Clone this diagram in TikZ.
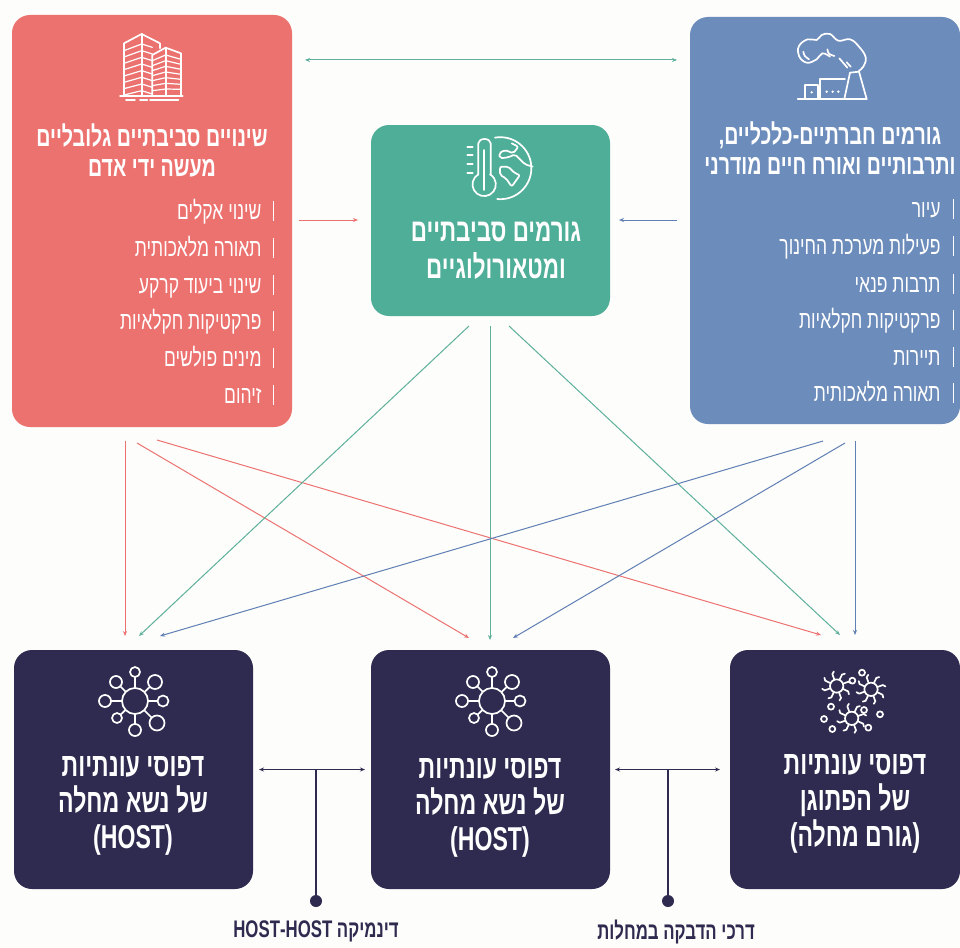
\documentclass[tikz,border=0pt]{standalone}
\usepackage{fontspec}
\usepackage{xcolor}
\usetikzlibrary{positioning}
\usetikzlibrary{arrows.meta}
\usetikzlibrary{calc}
\TeXXeTstate=1
\newfontfamily\hebfont[Script=Hebrew,FakeStretch=0.7]{Liberation Sans}
\newcommand{\heb}[1]{{\hebfont\beginR #1\endR}}
\definecolor{pagebg}{HTML}{FDFDFB}
\definecolor{redfill}{HTML}{EC7270}
\definecolor{bluefill}{HTML}{6C8CBB}
\definecolor{greenfill}{HTML}{4FAE98}
\definecolor{darkfill}{HTML}{2F2A4F}
\definecolor{tealline}{HTML}{5DB09A}
\definecolor{blueline}{HTML}{5F7FB5}
\tikzset{
  box/.style={rectangle,rounded corners=18pt,inner sep=0pt,outer sep=0pt,minimum width=239pt,minimum height=239pt},
  redline/.style={draw=redfill},
  tealarrow/.style={draw=tealline},
  bluearrow/.style={draw=blueline},
  darkarrow/.style={draw=darkfill},
  title/.style={text=white,align=center,font=\hebfont\bfseries\fontsize{28}{30}\selectfont},
  bigtitle/.style={text=white,align=center,font=\hebfont\bfseries\fontsize{32}{37}\selectfont},
  hosttitle/.style={text=white,align=center,font=\hebfont\bfseries\fontsize{33}{36}\selectfont},
  item/.style={text=white,anchor=base east,inner sep=0pt,font=\hebfont\fontsize{25}{27}\selectfont},
  itembar/.style={-,draw=white,line width=0.8pt},
  caption/.style={text=darkfill,font=\hebfont\bfseries\fontsize{24}{26}\selectfont},
  dotnode/.style={circle,fill=darkfill,inner sep=0pt,minimum size=12pt},
  iconline/.style={-,color=white,line width=1.7pt,line cap=round,line join=round},
  cropscale/.style={x=0.3333pt,y=-0.3333pt},
  towericon/.pic={
    \begin{scope}[iconline,cropscale]
      \draw (72,228) -- (72,70) -- (125,42) -- (180,70) -- (180,85);
      \draw (125,42) -- (125,228);
      \foreach \k in {0,...,7} {
        \draw[line width=1.2pt] (72,92+19*\k) -- (125,72+20*\k) -- (157,82+20*\k);
      }
      \draw (157,228) -- (157,105) -- (197,83) -- (243,100) -- (243,228);
      \draw (197,83) -- (197,228);
      \foreach \k in {0,...,6} {
        \draw[line width=1.2pt] (157,122+15*\k) -- (197,105+17*\k) -- (243,118+15*\k);
      }
      \draw (60,228) -- (248,228);
      \draw (78,241) -- (105,241) (120,241) -- (142,241) (150,241) -- (235,241);
    \end{scope}
  },
  factoryicon/.pic={
    \begin{scope}[iconline,cropscale]
      \draw (38,237) -- (245,237);
      \draw (60,237) -- (60,195) -- (100,195) -- (100,237);
      \draw (105,237) -- (105,178) -- (180,178);
      \draw (178,237) -- (195,158) -- (222,155) -- (245,237);
      \fill (80,217) circle (4) (125,215) circle (4) (143,215) circle (4) (160,215) circle (4);
      \draw plot[smooth,tension=0.7] coordinates {(135,110) (112,100) (95,118) (65,128) (42,108) (42,78) (68,58) (95,60) (110,45) (135,42) (160,62) (195,58) (222,80) (242,112) (235,140) (222,152)};
      \draw (55,95) .. controls (58,108) .. (72,118);
      \draw (127,88) .. controls (130,102) .. (148,108);
      \draw (163,115) -- (187,143);
      \draw (185,127) -- (197,140);
    \end{scope}
  },
  earthicon/.pic={
    \begin{scope}[iconline,cropscale]
      \draw (85,148) -- (85,55) arc[start angle=180,end angle=360,x radius=18.5,y radius=13] -- (122,148);
      \draw (85,148) arc[start angle=240,end angle=-60,radius=35];
      \draw (102,75) -- (102,195);
      \foreach \y in {65,90,118,145} {
        \draw (52,\y) -- (68,\y);
      }
      \draw (135,38) arc[start angle=-100,end angle=96,radius=93];
      \draw[rounded corners=2pt] (185,55) -- (205,65) -- (190,85) -- (165,75) -- (147,85) -- (150,100) -- (175,97) -- (195,88) -- (225,118) -- (248,125);
      \draw[rounded corners=2pt] (150,125) -- (175,125) -- (195,145) -- (210,150) -- (185,185) -- (168,160) -- (150,150) -- cycle;
    \end{scope}
  },
  hosticon/.pic={
    \begin{scope}[iconline]
      \draw (0,0) circle (13);
      \foreach \dx/\dy/\r in {0/-29/5,-19/-19/6,20/-19/7,-30/0/6,28/0/5.5,-18/17/5,22/22/7.5,0/29/6} {
        \draw (\dx,\dy) circle (\r);
        \draw ($(0,0)!13pt!(\dx,\dy)$) -- ($(\dx,\dy)!\r pt!(0,0)$);
      }
    \end{scope}
  },
  pathogenicon/.pic={
    \begin{scope}[iconline,cropscale]
      \foreach \cx/\cy in {95/78,198/88,140/175} {
        \draw (\cx,\cy) circle (20);
        \foreach \a in {25,70,115,160,205,250,295,340} {
          \draw (\cx,\cy) ++(\a:20) -- ++(\a:18) -- ++(\a+50:9);
        }
      }
      \foreach \cx/\cy in {142/62,171/38,78/140,57/177,82/207,177/150,225/163,190/203} {
        \draw (\cx,\cy) circle (9);
      }
    \end{scope}
  }
}
\begin{document}
\begin{tikzpicture}[->,>={Stealth[length=5pt,width=4pt]},x=1pt,y=-1pt,line width=1pt]
\useasboundingbox (0,0) rectangle (960,947);
\fill[pagebg] (0,0) rectangle (960,947);

% boxes
\node[box,fill=redfill,minimum width=280pt,minimum height=412pt] (redbox) at (152,221) {};
\node[box,fill=greenfill,minimum height=191pt] (greenbox) at (490.5,220.5) {};
\node[box,fill=bluefill,minimum width=270pt,minimum height=407pt] (bluebox) at (825,220.5) {};
\node[box,fill=darkfill] (hostL) at (133.5,769.5) {};
\node[box,fill=darkfill] (hostM) [right=118pt of hostL] {};
\node[box,fill=darkfill,minimum width=230pt] (pathogen) [right=120pt of hostM] {};

% icons
\pic at (100,20) {towericon};
\pic at (785,20) {factoryicon};
\pic at (450,125) {earthicon};
\pic at (135,701) {hosticon};
\pic at (492,701) {hosticon};
\pic at (805,660) {pathogenicon};

% titles
\node[title] (redtitle) at (152,150) {\heb{שינויים סביבתיים גלובליים}\\\heb{מעשה ידי אדם}};
\node[bigtitle] (greentitle) at (496,251) {\heb{גורמים סביבתיים}\\\heb{ומטאורולוגיים}};
\node[title] (bluetitle) at (830,148) {\heb{גורמים חברתיים-כלכליים,}\\\heb{ותרבותיים ואורח חיים מודרני}};
\node[hosttitle] (hostLtitle) at (133,806) {\heb{דפוסי עונתיות}\\\heb{של נשא מחלה}\\(HOST)};
\node[hosttitle] (hostMtitle) at (490,808) {\heb{דפוסי עונתיות}\\\heb{של נשא מחלה}\\(HOST)};
\node[hosttitle] (pathogentitle) at (855,804) {\heb{דפוסי עונתיות}\\\heb{של הפתוגן}\\\heb{(גורם מחלה)}};

% lists
\foreach \y/\t in {211/שינוי אקלים,248/תאורה מלאכותית,285/שינוי ביעוד קרקע,321/פרקטיקות חקלאיות,358/מינים פולשים,395/זיהום} {
  \node[item] (red\y) at (262,\y+8) {\heb{\t}};
  \draw[itembar] (273,\y-10) -- (273,\y+10);
}
\foreach \y/\t in {209/עיור,246/פעילות מערכת החינוך,284/תרבות פנאי,320/פרקטיקות חקלאיות,357/תיירות,393/תאורה מלאכותית} {
  \node[item] (blue\y) at (941,\y+8) {\heb{\t}};
  \draw[itembar] (953,\y-10) -- (953,\y+10);
}

% free ends of the connectors
\foreach \n/\x/\y in {topL/305/60,topR/677/60,redE/299/220,greenW/358/220,blueW/677/220,greenE/619/220,
  redA/125/441,redB/137/443,redC/157/440,greenA/469/326,greenB/490/326,greenC/509/326,
  blueA/823/441,blueB/845/443,blueC/855/441,
  hostLr/125/636,hostLg/139/636,hostLb/160/636,hostMr/469/638,hostMg/490/640,hostMb/513/638,
  pathr/821/635,pathg/840/635,pathb/855/635,stemA/316/770,stemB/668/770} {
  \coordinate (\n) at (\x,\y);
}

\path (topL)   edge [tealarrow,<->] (topR)
      (redE)   edge [redline]       (greenW)
      (blueW)  edge [bluearrow]     (greenE)
      (redA)   edge [redline]       (hostLr)
      (redB)   edge [redline]       (hostMr)
      (redC)   edge [redline]       (pathr)
      (greenA) edge [tealarrow]     (hostLg)
      (greenB) edge [tealarrow]     (hostMg)
      (greenC) edge [tealarrow]     (pathg)
      (blueA)  edge [bluearrow]     (hostLb)
      (blueB)  edge [bluearrow]     (hostMb)
      (blueC)  edge [bluearrow]     (pathb)
      (hostL.east) edge [darkarrow,<->,shorten <=6pt,shorten >=6pt] (hostM.west)
      (hostM.east) edge [darkarrow,<->,shorten <=5pt,shorten >=10pt] (pathogen.west);

\node[dotnode] (dotA) at (316,901) {};
\node[dotnode] (dotB) at (668,901) {};
\draw[-,darkfill,line width=1.3pt] (stemA) -- (dotA);
\draw[-,darkfill,line width=1.3pt] (stemB) -- (dotB);
\node[caption] (captionA) [below=9pt of dotA] {\heb{דינמיקה \beginL HOST-HOST\endL}};
\node[caption] (captionB) [below=9pt of dotB,xshift=8pt] {\heb{דרכי הדבקה במחלות}};
\end{tikzpicture}
\end{document}
